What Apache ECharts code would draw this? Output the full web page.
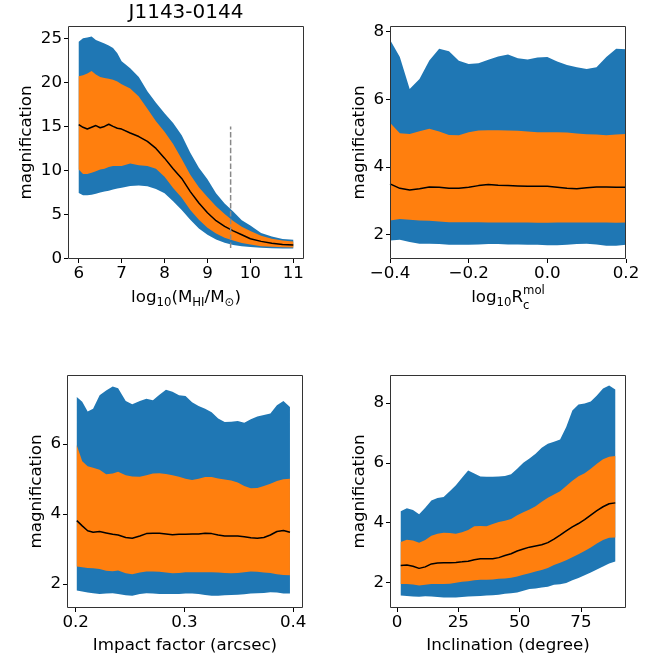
<!DOCTYPE html>
<html><head><meta charset="utf-8">
<script src="https://cdn.jsdelivr.net/npm/echarts@6/dist/echarts.min.js"></script>
<style>html,body{margin:0;padding:0;background:#fff}#c{width:661px;height:659px}</style>
</head><body><div id="c"></div>
<script>
// ---------- Panel 1: log10(MHI/Msun) ----------
const mhiX = [6.0,6.1,6.2,6.3,6.4,6.5,6.6,6.7,6.8,6.9,7.0,7.2,7.4,7.6,7.8,8.0,8.2,8.4,8.6,8.8,9.0,9.2,9.4,9.6,9.8,10.0,10.25,10.5,10.75,11.0];
const mhiBlueHi = [24.6,25.0,25.1,25.2,24.8,24.6,24.4,24.2,23.9,23.3,22.4,21.6,20.6,19.0,17.7,16.5,15.4,14.0,12.0,10.3,9.0,7.4,6.25,5.35,4.35,3.75,2.9,2.5,2.22,2.14];
const mhiOrangeHi = [20.7,20.8,21.0,21.3,20.9,20.6,20.5,20.4,20.3,20.1,19.8,19.3,18.4,17.0,15.6,14.4,13.0,11.3,9.5,8.1,7.0,5.95,5.05,4.25,3.6,3.13,2.6,2.25,2.05,1.95];
const mhiMedian = [15.2,14.9,14.7,14.9,15.1,14.85,15.0,15.25,15.0,14.8,14.7,14.25,13.85,13.3,12.5,11.4,10.2,9.1,7.6,6.3,5.2,4.3,3.65,3.15,2.7,2.25,1.95,1.75,1.6,1.53];
const mhiOrangeLo = [10.1,9.6,9.6,9.75,9.9,10.1,10.2,10.4,10.5,10.5,10.5,10.8,10.6,10.5,10.2,9.3,8.0,6.9,5.5,4.4,3.5,2.85,2.35,2.05,1.76,1.6,1.4,1.33,1.28,1.26];
const mhiBlueLo = [7.45,7.2,7.2,7.25,7.35,7.5,7.6,7.7,7.85,7.95,8.05,8.25,8.3,8.2,7.9,7.4,6.5,5.5,4.4,3.4,2.7,2.15,1.8,1.55,1.4,1.3,1.22,1.18,1.15,1.15];
const mhiCutX = [9.54, 9.54];
const mhiCutY = [1.2, 15];

// ---------- Panel 2: log10 Rc^mol ----------
const rcX = [-0.4,-0.375,-0.35,-0.325,-0.3,-0.275,-0.25,-0.225,-0.2,-0.175,-0.15,-0.125,-0.1,-0.075,-0.05,-0.025,0,0.025,0.05,0.075,0.1,0.125,0.15,0.175,0.2];
const rcBlueHi = [7.76,7.25,6.31,6.6,7.15,7.5,7.42,7.14,7.05,7.07,7.17,7.27,7.33,7.22,7.18,7.24,7.25,7.12,7.02,6.95,6.9,6.95,7.25,7.5,7.48];
const rcOrangeHi = [5.31,5.0,4.98,5.06,5.13,5.05,4.95,4.94,5.03,5.08,5.09,5.09,5.08,5.07,5.05,5.03,5.03,5.03,5.02,4.99,4.97,4.96,4.94,4.96,4.98];
const rcMedian = [3.50,3.37,3.32,3.36,3.41,3.40,3.37,3.37,3.40,3.45,3.48,3.46,3.45,3.44,3.43,3.43,3.43,3.40,3.37,3.36,3.39,3.41,3.41,3.40,3.40];
const rcOrangeLo = [2.42,2.46,2.44,2.42,2.41,2.39,2.37,2.37,2.37,2.37,2.36,2.36,2.36,2.36,2.36,2.35,2.35,2.36,2.36,2.36,2.36,2.36,2.36,2.35,2.36];
const rcBlueLo = [1.83,1.85,1.78,1.73,1.73,1.72,1.70,1.70,1.70,1.71,1.72,1.72,1.71,1.71,1.70,1.70,1.69,1.69,1.70,1.72,1.73,1.71,1.67,1.67,1.70];

// ---------- Panel 3: impact factor ----------
const ipX = [0.201,0.206,0.211,0.216,0.222,0.228,0.234,0.239,0.246,0.252,0.259,0.265,0.271,0.277,0.283,0.289,0.295,0.301,0.307,0.313,0.319,0.325,0.331,0.337,0.343,0.349,0.355,0.361,0.367,0.373,0.379,0.385,0.391,0.397];
const ipBlueHi = [7.33,7.2,6.92,7.0,7.38,7.52,7.63,7.58,7.22,7.13,7.22,7.28,7.24,7.4,7.54,7.48,7.38,7.36,7.18,7.08,7.0,6.9,6.72,6.62,6.63,6.65,6.6,6.7,6.78,6.82,6.86,7.1,7.22,7.05];
const ipOrangeHi = [5.96,5.5,5.36,5.32,5.26,5.13,5.15,5.2,5.1,5.07,5.06,5.1,5.15,5.16,5.14,5.1,5.06,5.0,4.97,5.0,5.05,5.05,5.01,4.98,4.95,4.9,4.8,4.73,4.74,4.8,4.86,4.94,4.99,5.0];
const ipMedian = [3.81,3.66,3.52,3.48,3.5,3.46,3.42,3.40,3.33,3.31,3.37,3.44,3.45,3.45,3.43,3.41,3.42,3.42,3.43,3.43,3.45,3.44,3.40,3.37,3.37,3.37,3.35,3.32,3.31,3.33,3.40,3.50,3.53,3.48];
const ipOrangeLo = [2.5,2.48,2.46,2.45,2.43,2.38,2.37,2.39,2.31,2.28,2.33,2.36,2.36,2.35,2.33,2.31,2.32,2.34,2.34,2.34,2.34,2.34,2.33,2.32,2.31,2.32,2.34,2.36,2.35,2.33,2.32,2.28,2.26,2.25];
const ipBlueLo = [1.82,1.79,1.76,1.74,1.72,1.73,1.74,1.72,1.68,1.67,1.72,1.74,1.73,1.72,1.72,1.72,1.72,1.73,1.73,1.72,1.69,1.67,1.67,1.68,1.69,1.70,1.71,1.73,1.74,1.75,1.77,1.76,1.73,1.73];

// ---------- Panel 4: inclination ----------
const incX = [1.5,4,6.5,9,11.5,14,16.5,19,21.5,24,26.5,29,31.5,34,36.5,39,41.5,44,46.5,49,51.5,54,56.5,59,61.5,64,66.5,69,71.5,74,76.5,79,81.5,84,86.5,89];
const incBlueHi = [4.38,4.48,4.42,4.28,4.5,4.74,4.82,4.86,5.05,5.25,5.5,5.74,5.64,5.54,5.53,5.53,5.54,5.56,5.62,5.8,6.0,6.14,6.3,6.5,6.64,6.7,6.78,7.2,7.75,7.95,7.98,8.05,8.25,8.48,8.58,8.45];
const incOrangeHi = [3.35,3.43,3.4,3.33,3.42,3.56,3.63,3.66,3.65,3.63,3.68,3.75,3.88,3.89,3.88,3.95,4.02,4.06,4.12,4.25,4.35,4.44,4.55,4.7,4.83,4.94,5.05,5.22,5.4,5.55,5.65,5.8,5.97,6.12,6.2,6.23];
const incMedian = [2.57,2.58,2.54,2.47,2.52,2.62,2.65,2.66,2.66,2.67,2.69,2.71,2.76,2.79,2.79,2.79,2.83,2.9,2.96,3.05,3.12,3.18,3.22,3.26,3.33,3.45,3.58,3.72,3.86,3.97,4.1,4.25,4.4,4.53,4.63,4.66];
const incOrangeLo = [1.95,1.95,1.93,1.9,1.92,1.95,1.95,1.95,1.96,1.99,2.02,2.04,2.07,2.09,2.09,2.1,2.12,2.13,2.16,2.2,2.26,2.31,2.37,2.42,2.48,2.58,2.66,2.74,2.84,2.94,3.05,3.17,3.3,3.42,3.49,3.5];
const incBlueLo = [1.56,1.55,1.53,1.52,1.54,1.53,1.51,1.5,1.5,1.5,1.51,1.53,1.54,1.55,1.56,1.57,1.59,1.62,1.64,1.66,1.72,1.78,1.8,1.83,1.86,1.92,1.94,1.98,2.07,2.15,2.24,2.33,2.43,2.53,2.63,2.7];

// ---------- Tick labels ----------
const xTicks = [[6,7,8,9,10,11],[-0.4,-0.2,0,0.2],[0.2,0.3,0.4],[0,25,50,75]];
const yTicks = [[0,5,10,15,20,25],[2,4,6,8],[2,4,6],[2,4,6,8]];
const title = 'J1143-0144';
const yName = 'magnification';

// ---------- Layout / style ----------
const FONT = '"DejaVu Sans", sans-serif';
const FS = 16.7, SFS = 11.7;
const BLUE = '#1f77b4', ORANGE = '#ff7f0e';
const grids = [
  {left:68, top:26, width:236, height:233},
  {left:390, top:26, width:236, height:233},
  {left:67, top:375, width:236, height:233},
  {left:390, top:375, width:236, height:233}
];
const xRange = [[5.75,11.25],[-0.4,0.2],[0.192,0.409],[-2.875,93.375]];
const yRange = [[-0.05,26.4],[1.28,8.17],[1.32,7.96],[1.146,8.934]];
const yGap = [33,22,22,22];

function fmtX(i){
  return function(v){
    if (i===1) return (v<0?'\u2212':'') + Math.abs(v).toFixed(1);
    if (i===2) return v.toFixed(1);
    return String(Math.round(v));
  };
}

const xAxes = [], yAxes = [];
for (let i=0;i<4;i++){
  xAxes.push({
    type:'value', gridIndex:i, min:xRange[i][0], max:xRange[i][1], position:'bottom',
    axisLine:{show:false, onZero:false},
    axisTick:{show:true, length:4, lineStyle:{color:'#000', width:1}, customValues:xTicks[i]},
    axisLabel:{show:true, margin:6, color:'#000', fontSize:FS, fontFamily:FONT, customValues:xTicks[i], formatter:fmtX(i), showMinLabel:true, showMaxLabel:true},
    splitLine:{show:false},
    name: i===2 ? 'Impact factor (arcsec)' : (i===3 ? 'Inclination (degree)' : ''),
    nameLocation:'middle', nameGap:29,
    nameTextStyle:{fontSize:FS, fontFamily:FONT, color:'#000'}
  });
  yAxes.push({
    type:'value', gridIndex:i, min:yRange[i][0], max:yRange[i][1], position:'left',
    axisLine:{show:false, onZero:false},
    axisTick:{show:true, length:4, lineStyle:{color:'#000', width:1}, customValues:yTicks[i]},
    axisLabel:{show:true, margin:6, color:'#000', fontSize:FS, fontFamily:FONT, customValues:yTicks[i], formatter:v=>String(v), showMinLabel:true, showMaxLabel:true},
    splitLine:{show:false},
    name:yName, nameLocation:'middle', nameRotate:90, nameGap:yGap[i],
    nameTextStyle:{fontSize:FS, fontFamily:FONT, color:'#000'}
  });
}

function band(idx, xs, lo, hi, color, z){
  return {
    type:'custom', xAxisIndex:idx, yAxisIndex:idx, z:z, silent:true, animation:false, clip:true,
    data: xs.map((x,i)=>[x, lo[i], hi[i]]),
    encode:{x:0, y:[1,2]},
    renderItem:function(params, api){
      if (params.dataIndex !== 0) return null;
      const pts = [];
      for (let i=0;i<xs.length;i++) pts.push(api.coord([xs[i], hi[i]]));
      for (let i=xs.length-1;i>=0;i--) pts.push(api.coord([xs[i], lo[i]]));
      return {type:'polygon', shape:{points:pts}, style:{fill:color}};
    }
  };
}
function med(idx, xs, ys){
  return {type:'line', xAxisIndex:idx, yAxisIndex:idx, z:5, silent:true, animation:false,
    symbol:'none', data: xs.map((x,i)=>[x, ys[i]]),
    lineStyle:{color:'#000', width:1.5}};
}

const panels = [
  [mhiX, mhiBlueLo, mhiBlueHi, mhiOrangeLo, mhiOrangeHi, mhiMedian],
  [rcX, rcBlueLo, rcBlueHi, rcOrangeLo, rcOrangeHi, rcMedian],
  [ipX, ipBlueLo, ipBlueHi, ipOrangeLo, ipOrangeHi, ipMedian],
  [incX, incBlueLo, incBlueHi, incOrangeLo, incOrangeHi, incMedian]
];
const series = [];
panels.forEach((p, i) => {
  series.push(band(i, p[0], p[1], p[2], BLUE, 2));
  series.push(band(i, p[0], p[3], p[4], ORANGE, 3));
  series.push(med(i, p[0], p[5]));
});
series.push({type:'line', xAxisIndex:0, yAxisIndex:0, z:6, silent:true, animation:false, symbol:'none',
  data: mhiCutX.map((x,i)=>[x, mhiCutY[i]]),
  lineStyle:{color:'#888888', width:1.5, type:[5.5,2.4]}});

// ---------- text helpers ----------
const mctx = document.createElement('canvas').getContext('2d');
function tw(t, fs){ mctx.font = fs + 'px "DejaVu Sans"'; return mctx.measureText(t).width; }
function mathLabel(parts, cx, base){
  let total = 0; const pos = [];
  for (let k=0;k<parts.length;k++){
    const p = parts[k];
    if (p[3]) { const w = Math.max(tw(p[0],p[1]), tw(parts[k+1][0],parts[k+1][1])); pos.push(total); pos.push(total); total += w; k++; }
    else { pos.push(total); total += tw(p[0], p[1]); }
  }
  const x0 = cx - total/2;
  return parts.map((p,k)=>({
    type:'text', silent:true, x: x0 + pos[k], y: base + p[2] - 0.346*p[1],
    style:{text:p[0], fontSize:p[1], fontFamily:FONT, fill:'#000', align:'left', verticalAlign:'middle'}
  }));
}

const graphics = [];
grids.forEach(g => graphics.push({type:'rect', silent:true, z:100,
  shape:{x:g.left+0.5, y:g.top+0.5, width:g.width-1, height:g.height-1},
  style:{fill:null, stroke:'#333', lineWidth:1}}));
graphics.push({type:'text', silent:true, x:186, y:20 - 0.346*20,
  style:{text:title, fontSize:20, fontFamily:FONT, fill:'#000', align:'center', verticalAlign:'middle'}});
mathLabel([['log',FS,0],['10',SFS,3.5],['(M',FS,0],['HI',SFS,3.5],['/M',FS,0],['\u2299',SFS,3.5],[')',FS,0]], 186, 303.4).forEach(e=>graphics.push(e));
mathLabel([['log',FS,0],['10',SFS,3.5],['R',FS,0],['c',SFS,7,true],['mol',SFS,-8]], 508, 303.4).forEach(e=>graphics.push(e));

const chart = echarts.init(document.getElementById('c'), null, {renderer:'canvas'});
chart.setOption({
  backgroundColor:'#fff',
  animation:false,
  grid: grids.map(g=>Object.assign({containLabel:false, show:false}, g)),
  xAxis: xAxes, yAxis: yAxes,
  series: series,
  graphic: graphics
});
</script></body></html>
